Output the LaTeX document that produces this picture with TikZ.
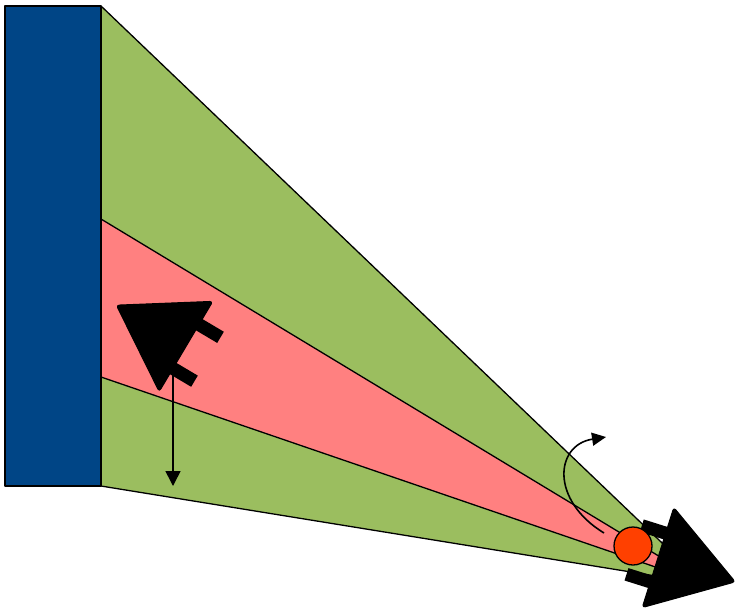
\documentclass[tikz,border=0pt]{standalone}
\usetikzlibrary{arrows.meta}
\definecolor{wallblue}{RGB}{0,69,134}
\definecolor{zonegreen}{RGB}{155,190,95}
\definecolor{zonered}{RGB}{255,128,128}
\definecolor{robotred}{RGB}{255,64,0}
\tikzset{
  wallbox/.style={draw=black, fill=wallblue, line width=1.8pt, minimum width=96pt, minimum height=480pt, inner sep=0pt},
  zoneline/.style={draw=black, line width=1.3pt},
  robotdot/.style={circle, draw=black, fill=robotred, line width=1.3pt, minimum size=38pt, inner sep=0pt},
  motion/.style={line width=1.6pt, -{Triangle[length=15pt,width=15pt]}},
  turnarrow/.style={line width=1.6pt, -{Triangle[length=14pt,width=13pt]}},
  vehicle/.pic={
    \fill[black] (-25,19) rectangle (4,32);
    \fill[black] (-25,-32) rectangle (4,-19);
    \filldraw[black, line width=1pt, rounded corners=3pt] (81,0) -- (0,52.5) -- (0,-52.5) -- cycle;
    \coordinate (-base) at (0,0);
  }
}
\begin{document}
\begin{tikzpicture}[x=1pt, y=-1pt, line join=round]
\useasboundingbox (0,0) rectangle (736,614);
% key points
\coordinate (wallTop) at (101,6);
\coordinate (wallBot) at (101,486);
\coordinate (redTop) at (101,219);
\coordinate (redBot) at (101,377);
\coordinate (apex) at (705,584);
% zones
\fill[zonegreen] (wallTop) -- (apex) -- (wallBot) -- cycle;
\draw[zoneline] (wallTop) -- (apex) -- (wallBot);
\fill[zonered] (redTop) -- (apex) -- (redBot) -- cycle;
\draw[zoneline] (redTop) -- (apex) -- (redBot);
% wall
\node[wallbox] (wall) at (53,246) {};
% turning arrow
\coordinate (turnStart) at (604,533);
\coordinate (turnEnd) at (606,437);
\draw[turnarrow] (turnStart) .. controls (550,500) and (555,445) .. (turnEnd);
% vehicles
\pic[rotate=149.3] (veh1) at (186,346.5) {vehicle};
\pic[rotate=-17.5] (veh2) at (658,557.5) {vehicle};
% vertical motion arrow
\coordinate (vStart) at (173,372);
\coordinate (vEnd) at (173,486);
\draw[motion] (vStart) -- (vEnd);
% robot
\node[robotdot] (robot) at (633,546) {};
\end{tikzpicture}
\end{document}
